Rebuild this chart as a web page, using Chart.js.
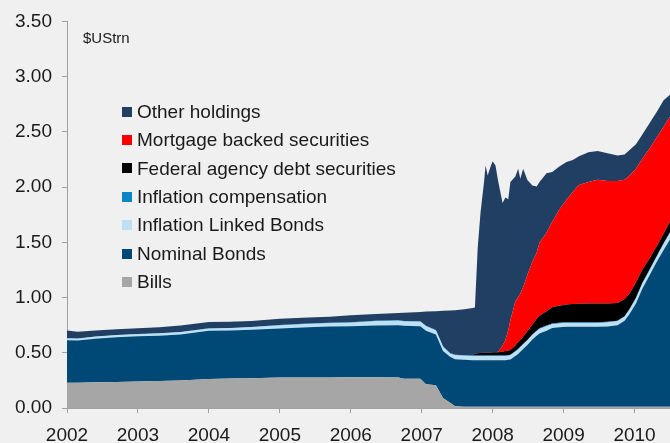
<!DOCTYPE html>
<html>
<head>
<meta charset="utf-8">
<script src="https://cdn.jsdelivr.net/npm/chart.js@4/dist/chart.umd.min.js"></script>
<style>
  html, body { margin: 0; padding: 0; background: #f0f0f0; }
  #wrap { position: relative; width: 670px; height: 443px; overflow: hidden; }
  canvas { display: block; }
</style>
</head>
<body>
<div id="wrap"><canvas id="c" width="670" height="443"></canvas></div>
<script>
// ---- Data (US$ trillions), decimal year ----
const dates = [
  2002.00, 2002.15, 2002.40, 2002.70, 2003.00, 2003.30, 2003.60, 2004.00, 2004.30, 2004.60,
  2005.00, 2005.40, 2005.70, 2006.00, 2006.35, 2006.67, 2006.75, 2006.98, 2007.06, 2007.20,
  2007.30, 2007.40, 2007.47, 2007.60, 2007.72, 2007.75, 2007.79, 2007.83, 2007.88, 2007.90,
  2007.93, 2007.97, 2008.00, 2008.04, 2008.08, 2008.14, 2008.18, 2008.22, 2008.25, 2008.32,
  2008.36, 2008.39, 2008.43, 2008.49, 2008.56, 2008.62, 2008.66, 2008.76, 2008.84, 2008.94,
  2009.04, 2009.13, 2009.21, 2009.35, 2009.48, 2009.62, 2009.76, 2009.86, 2009.93, 2010.02,
  2010.11, 2010.22, 2010.31, 2010.41, 2010.50
];
const bills = [
  0.228, 0.229, 0.232, 0.236, 0.240, 0.245, 0.250, 0.262, 0.266, 0.270,
  0.276, 0.277, 0.277, 0.278, 0.278, 0.277, 0.265, 0.264, 0.215, 0.207,
  0.090, 0.048, 0.015, 0.012, 0.012, 0.012, 0.012, 0.012, 0.012, 0.012,
  0.012, 0.012, 0.012, 0.012, 0.012, 0.012, 0.012, 0.012, 0.012, 0.012,
  0.012, 0.012, 0.012, 0.012, 0.012, 0.012, 0.012, 0.012, 0.012, 0.012,
  0.012, 0.012, 0.012, 0.012, 0.012, 0.012, 0.012, 0.012, 0.012, 0.012,
  0.012, 0.012, 0.012, 0.012, 0.012
];
const nominalBonds = [
  0.385, 0.383, 0.396, 0.404, 0.410, 0.410, 0.415, 0.438, 0.436, 0.438,
  0.444, 0.455, 0.461, 0.462, 0.470, 0.473, 0.480, 0.476, 0.485, 0.458,
  0.427, 0.415, 0.427, 0.424, 0.421, 0.421, 0.421, 0.421, 0.421, 0.421,
  0.421, 0.421, 0.421, 0.421, 0.421, 0.421, 0.421, 0.424, 0.428, 0.458,
  0.478, 0.498, 0.523, 0.558, 0.608, 0.643, 0.663, 0.688, 0.713, 0.720,
  0.723, 0.723, 0.723, 0.723, 0.723, 0.726, 0.738, 0.778, 0.838, 0.933,
  1.068, 1.198, 1.308, 1.418, 1.513
];
const inflationLinked = [
  0.017, 0.016, 0.017, 0.018, 0.018, 0.020, 0.020, 0.018, 0.020, 0.022,
  0.028, 0.028, 0.030, 0.032, 0.037, 0.040, 0.038, 0.040, 0.040, 0.037,
  0.036, 0.029, 0.036, 0.036, 0.037, 0.037, 0.037, 0.037, 0.037, 0.037,
  0.037, 0.037, 0.037, 0.037, 0.037, 0.037, 0.037, 0.038, 0.038, 0.040,
  0.040, 0.040, 0.040, 0.040, 0.040, 0.040, 0.040, 0.040, 0.033, 0.033,
  0.035, 0.035, 0.035, 0.035, 0.035, 0.037, 0.035, 0.035, 0.040, 0.045,
  0.045, 0.045, 0.045, 0.055, 0.060
];
const inflationComp = [
  0.002, 0.002, 0.002, 0.002, 0.002, 0.002, 0.003, 0.003, 0.003, 0.003,
  0.004, 0.004, 0.004, 0.004, 0.005, 0.005, 0.005, 0.005, 0.005, 0.005,
  0.005, 0.005, 0.005, 0.005, 0.005, 0.005, 0.005, 0.005, 0.005, 0.005,
  0.005, 0.005, 0.005, 0.005, 0.005, 0.005, 0.005, 0.005, 0.005, 0.005,
  0.005, 0.005, 0.005, 0.005, 0.005, 0.005, 0.006, 0.006, 0.006, 0.006,
  0.006, 0.006, 0.006, 0.006, 0.006, 0.006, 0.006, 0.006, 0.006, 0.007,
  0.007, 0.007, 0.007, 0.007, 0.007
];
const agencyDebt = [
  0, 0, 0, 0, 0, 0, 0, 0, 0, 0,
  0, 0, 0, 0, 0, 0, 0, 0, 0, 0,
  0, 0, 0, 0, 0, 0.018, 0.020, 0.022, 0.025, 0.026,
  0.027, 0.028, 0.029, 0.030, 0.030, 0.035, 0.040, 0.041, 0.042, 0.050,
  0.060, 0.060, 0.065, 0.080, 0.090, 0.105, 0.115, 0.130, 0.147, 0.155,
  0.160, 0.165, 0.167, 0.170, 0.170, 0.165, 0.160, 0.155, 0.140, 0.140,
  0.120, 0.100, 0.090, 0.085, 0.095
];
const mortgageBacked = [
  0, 0, 0, 0, 0, 0, 0, 0, 0, 0,
  0, 0, 0, 0, 0, 0, 0, 0, 0, 0,
  0, 0, 0, 0, 0, 0, 0, 0, 0, 0,
  0, 0, 0, 0, 0.005, 0.055, 0.100, 0.185, 0.270, 0.400,
  0.410, 0.420, 0.450, 0.510, 0.570, 0.600, 0.660, 0.710, 0.775, 0.870,
  0.950, 1.015, 1.073, 1.100, 1.120, 1.110, 1.105, 1.080, 1.070, 1.030,
  1.005, 0.995, 0.985, 0.970, 0.950
];
const otherHoldings = [
  0.070, 0.060, 0.055, 0.054, 0.052, 0.053, 0.060, 0.057, 0.056, 0.055,
  0.057, 0.055, 0.054, 0.063, 0.060, 0.065, 0.075, 0.085, 0.128, 0.170,
  0.322, 0.386, 0.402, 0.418, 0.430, 0.417, 0.960, 1.278, 1.555, 1.694,
  1.603, 1.682, 1.731, 1.690, 1.535, 1.290, 1.290, 1.185, 1.250, 1.130,
  1.160, 1.040, 1.070, 0.860, 0.690, 0.600, 0.550, 0.540, 0.450, 0.390,
  0.340, 0.290, 0.260, 0.270, 0.260, 0.250, 0.230, 0.230, 0.230, 0.220,
  0.220, 0.230, 0.230, 0.240, 0.200
];
const yearTicks = [2002, 2003, 2004, 2005, 2006, 2007, 2008, 2009, 2010];
const seriesNames = ['Bills', 'Nominal Bonds', 'Inflation Linked Bonds', 'Inflation compensation',
  'Federal agency debt securities', 'Mortgage backed securities', 'Other holdings'];
const unitLabel = '$UStrn';

// ---- Styles ----
const colors = ['#a6a6a6', '#004876', '#bde0f5', '#0a86c4', '#000000', '#ff0000', '#213f63'];
const seriesData = [bills, nominalBonds, inflationLinked, inflationComp, agencyDebt, mortgageBacked, otherHoldings];
const FONT = '"Liberation Sans", Arial, Helvetica, sans-serif';
const TEXT = '#1a1a1a';
const AXIS = '#a0a0a0';

Chart.defaults.font.family = FONT;
Chart.defaults.color = TEXT;

const datasets = seriesData.map((arr, k) => ({
  label: seriesNames[k],
  data: dates.map((d, i) => ({ x: d, y: arr[i] })),
  backgroundColor: colors[k],
  borderColor: colors[k],
  borderWidth: 0,
  pointRadius: 0,
  tension: 0,
  fill: k === 0 ? 'origin' : '-1'
}));

const overlayPlugin = {
  id: 'overlay',
  afterDraw(chart) {
    const ctx = chart.ctx;
    ctx.save();
    // unit label
    ctx.fillStyle = TEXT;
    ctx.font = '15px ' + FONT;
    ctx.textBaseline = 'middle';
    ctx.textAlign = 'left';
    ctx.fillText(unitLabel, 83, 39);
    // legend (top to bottom: reverse stacking order)
    ctx.font = '19px ' + FONT;
    const order = [6, 5, 4, 3, 2, 1, 0];
    order.forEach((k, row) => {
      const cy = 111.5 + row * 28.4;
      ctx.fillStyle = colors[k];
      ctx.fillRect(122, Math.round(cy - 5), 10, 10);
      ctx.fillStyle = TEXT;
      ctx.fillText(seriesNames[k], 137, cy + 1);
    });
    ctx.restore();
  }
};

new Chart(document.getElementById('c'), {
  type: 'line',
  data: { datasets },
  plugins: [overlayPlugin],
  options: {
    responsive: false,
    animation: false,
    devicePixelRatio: 1,
    layout: { padding: { top: 20, right: 0, bottom: 0, left: 0 } },
    plugins: { legend: { display: false }, tooltip: { enabled: false } },
    elements: { line: { borderWidth: 0 } },
    scales: {
      x: {
        type: 'linear',
        min: 2002,
        max: 2010.5,
        afterBuildTicks: (s) => { s.ticks = yearTicks.map(v => ({ value: v })); },
        afterFit: (s) => { s.height = 35; },
        ticks: { callback: (v) => String(v), font: { size: 19 }, color: TEXT, padding: 11, maxRotation: 0, autoSkip: false },
        grid: { drawOnChartArea: false, drawTicks: true, tickLength: 5, color: AXIS },
        border: { color: AXIS, width: 1 }
      },
      y: {
        stacked: true,
        min: 0,
        max: 3.5,
        afterFit: (s) => { s.width = 67; },
        ticks: { stepSize: 0.5, callback: (v) => Number(v).toFixed(2), font: { size: 19 }, color: TEXT, padding: 10 },
        grid: { drawOnChartArea: false, drawTicks: true, tickLength: 5, color: AXIS },
        border: { color: AXIS, width: 1 }
      }
    }
  }
});
</script>
</body>
</html>
